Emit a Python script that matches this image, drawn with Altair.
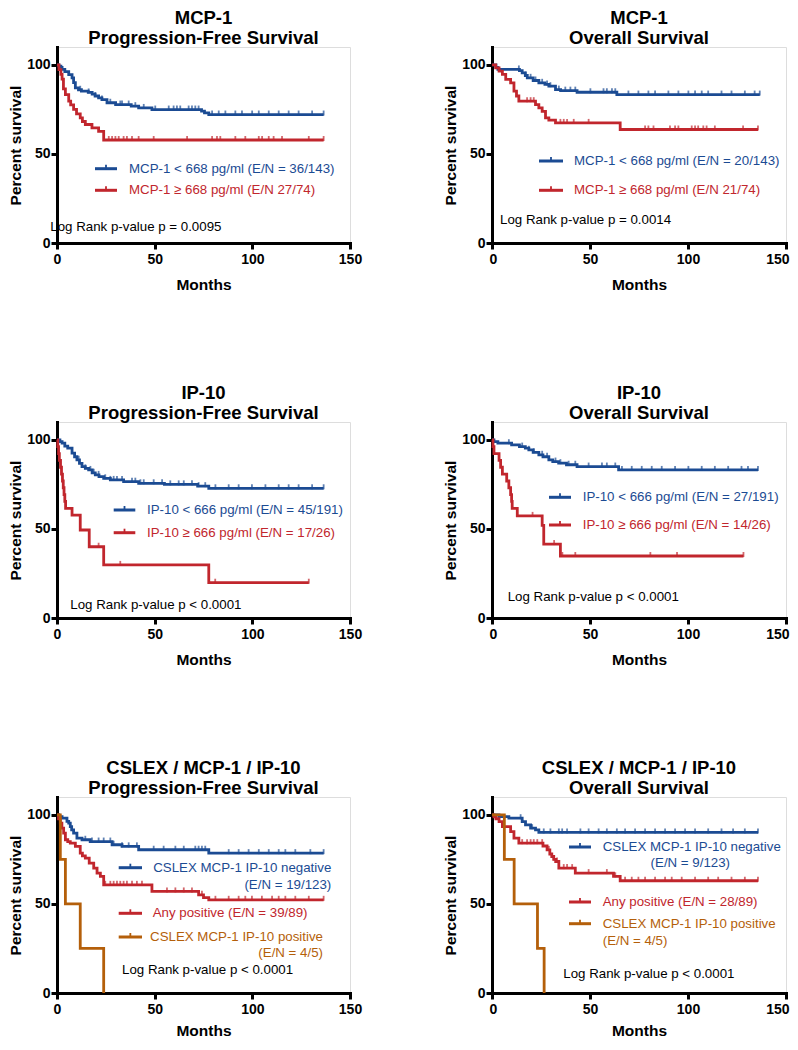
import altair as alt
import pandas as pd

FONT = "Liberation Sans"
BLUE = "#1b4b93"
RED = "#c1262d"
ORANGE = "#b45f0a"

# ---------------- data (months / percent survival) ----------------
# Panel 1: MCP-1 PFS
mcp_pfs_low_t = [0, 1, 2, 2.6, 4, 6, 7.7, 8.5, 9.4, 11, 12.5, 16, 18, 19.5, 21.3, 23, 25.6, 30, 38, 41.8, 48.6, 74, 75.5, 77.7, 136.5]
mcp_pfs_low_s = [100, 99.3, 98.6, 97.4, 96.2, 94.5, 92.7, 90, 87.1, 86, 85.2, 84.5, 83.5, 82.5, 81.5, 80.5, 78.7, 77.7, 76.8, 75.8, 74.9, 74, 73, 72.1, 72.1]
mcp_pfs_low_c = [11.9, 16.2, 19.6, 23, 27.3, 32.4, 33.3, 36.7, 40.1, 44.4, 50.3, 57.2, 59.7, 61.4, 63.1, 67.4, 69.1, 70.8, 72.5, 79.4, 82.8, 86.2, 91.3, 94.7, 99.9, 103.3, 108.4, 113.5, 118.6, 123.7, 130.6, 136.5]
mcp_pfs_high_t = [0, 1, 2, 2.6, 3.3, 4.3, 6, 7, 8.5, 10, 11.9, 13, 14.5, 17.9, 21.3, 23.9, 136.5]
mcp_pfs_high_s = [100, 97.3, 94.6, 92, 86.5, 83.3, 79.6, 77.5, 75, 72.5, 70.2, 68.2, 66.5, 64.6, 62.7, 57.8, 57.8]
mcp_pfs_high_c = [26.5, 28.2, 29.9, 31.6, 34.1, 35.8, 38.4, 41.8, 49.5, 66.6, 79.4, 81.9, 83.6, 91.3, 96.4, 103.3, 105, 108.4, 110.9, 115.2, 128.9, 136.5]

# Panel 2: MCP-1 OS
mcp_os_low_t = [0, 2, 3, 14, 15.4, 17, 18, 21, 23.9, 27, 29, 32.4, 35, 43.4, 63.7, 136.6]
mcp_os_low_s = [100, 98.6, 97.4, 96.7, 95.5, 94, 92.7, 91.2, 89.9, 89, 88, 86.1, 85.5, 84.6, 83.3, 83.3]
mcp_os_low_c = [13.7, 17.1, 19.7, 22.2, 25.6, 28.1, 29.8, 34.1, 37.4, 40, 42.5, 50.2, 56.9, 58.6, 61.2, 62.9, 69.6, 74.7, 79.8, 83.2, 90, 95.1, 100.2, 103.6, 107, 110.3, 117.1, 122.2, 129, 134, 136.6]
mcp_os_high_t = [0, 1.9, 3.6, 5.3, 7, 9.5, 11.2, 12.5, 13.7, 22.2, 23.9, 25.6, 27.3, 29, 32.4, 65.4, 135.7]
mcp_os_high_s = [100, 98.3, 96.5, 94.6, 91.8, 89.9, 85.2, 82.5, 79.6, 77.7, 75.8, 73.9, 70.2, 69, 67.4, 63.7, 63.7]
mcp_os_high_c = [17.9, 19.7, 21.3, 34.9, 36.6, 38.3, 41.7, 49.3, 78.1, 79.8, 82.4, 90.8, 93.4, 95.1, 101.9, 103.6, 105.2, 107.8, 109.5, 113.7, 128.1, 135.7]

# Panel 3: IP-10 PFS
ip_pfs_low_t = [0, 1.5, 2.6, 4, 5.5, 7.7, 9, 10.2, 11.5, 12.8, 14.5, 16.2, 18, 19.6, 21.5, 23.9, 27.3, 34.1, 41.8, 55, 72, 77.7, 136.5]
ip_pfs_low_s = [100, 99, 98.1, 96.5, 95.3, 92.5, 90.5, 88.8, 86.8, 85, 84, 83.1, 81.5, 80.3, 79.3, 78.4, 77.5, 76.5, 75.6, 75, 74, 72.8, 72.8]
ip_pfs_low_c = [11.1, 14.5, 17.1, 18.8, 21.3, 24.7, 27.3, 29, 30.7, 33.3, 38.4, 40.1, 42.7, 44.4, 49.5, 53.8, 58, 62.3, 64.9, 69.1, 72.5, 75.9, 81.1, 87.9, 93, 99.8, 106.7, 113.5, 118.6, 123.7, 130.6, 136.5]
ip_pfs_high_t = [0, 0.4, 0.8, 1.2, 1.8, 2.3, 2.8, 3.2, 3.6, 4.0, 4.4, 7.7, 11.9, 16.5, 23.9, 77.7, 128.9]
ip_pfs_high_s = [100, 96.2, 92.3, 88.5, 84.6, 80.8, 76.9, 73.1, 69.2, 65.4, 61.5, 57.7, 49.4, 40, 29.8, 19.8, 19.8]
ip_pfs_high_c = [21.3, 32.4, 81, 128.9]

# Panel 4: IP-10 OS
ip_os_low_t = [0, 1, 3, 10, 14, 17, 18.8, 21, 23.9, 26, 29, 31, 34, 38, 43.4, 64.6, 135.7]
ip_os_low_s = [100, 99, 98.1, 97.2, 96.2, 95.3, 94.4, 93, 91.6, 90.5, 88.8, 87.8, 86.9, 86, 85, 83.1, 83.1]
ip_os_low_c = [8.6, 15.4, 18.8, 21.3, 25.6, 28.1, 32.4, 34.9, 39.1, 42.5, 49.3, 56.1, 58.6, 62.9, 66.3, 71.3, 76.4, 81.5, 86.6, 93.4, 100.2, 107, 113.7, 120.5, 127.3, 130.6, 135.7]
ip_os_high_t = [0, 0.5, 1.0, 3.6, 4.4, 5.3, 7.5, 8.6, 9.5, 10, 10.3, 12.9, 25.6, 26.4, 34.9, 128.3]
ip_os_high_s = [100, 96.2, 92.3, 88.5, 84.6, 80.8, 76.9, 73.1, 69.2, 65.4, 61.5, 57.3, 52, 41.5, 34.8, 34.8]
ip_os_high_c = [20.7, 31.7, 35.9, 42.5, 80.8, 94.4, 128.3]

# Panel 5: CSLEX / MCP-1 / IP-10 PFS
cs_pfs_neg_t = [0, 1, 2.6, 5.1, 6, 6.8, 7.5, 8.5, 10.2, 12.8, 17, 28.2, 33.3, 41.8, 77.7, 136.5]
cs_pfs_neg_s = [100, 99, 98.1, 96.3, 95.3, 93.4, 91.5, 89.7, 86.9, 86, 85, 83.2, 82.3, 80.4, 78.5, 78.5]
cs_pfs_neg_c = [14.5, 17.9, 21.3, 23.9, 27.3, 29, 33.3, 36.7, 40.9, 49.5, 54.6, 60.6, 64.9, 70.8, 72.5, 74.2, 75.9, 87.9, 93, 98.1, 103.3, 108.4, 113.5, 116.9, 122, 129.7, 136.5]
cs_pfs_any_t = [0, 0.8, 1.7, 2.5, 3.4, 4.3, 5.5, 6.8, 9.4, 11.9, 13, 14.5, 16.5, 18.8, 20.5, 22.2, 23.9, 48.6, 72.5, 75, 77.7, 136.5]
cs_pfs_any_s = [100, 97.8, 95.3, 92.5, 89.7, 86, 85, 84.1, 82.3, 78.5, 77, 75.7, 72.9, 70.1, 67.3, 65.4, 60.7, 57, 55.1, 53.5, 52.3, 52.3]
cs_pfs_any_c = [24.7, 27.3, 29, 30.7, 32.4, 34.1, 35.8, 38.4, 40.9, 43.5, 56.3, 60.6, 64.9, 69.1, 74.2, 81.1, 87.9, 93, 96.4, 99.8, 104.9, 110.1, 113.5, 116.9, 122, 128.9, 136.5]
cs_pfs_pos_t = [0, 1.7, 4.3, 11.9, 23.9]
cs_pfs_pos_s = [100, 75, 50, 25, 0]
cs_pfs_pos_c = []

# Panel 6: CSLEX / MCP-1 / IP-10 OS
cs_os_neg_t = [0, 3.6, 8.6, 15.4, 17.1, 19.7, 22.2, 23.9, 135.7]
cs_os_neg_s = [100, 99, 98.1, 96.2, 94.4, 92.5, 91.6, 90.1, 90.1]
cs_os_neg_c = [14.6, 20.5, 26.4, 29.8, 34.1, 35.8, 38.3, 45.1, 49.3, 54.4, 58.6, 63.7, 67.9, 73, 78.1, 83.2, 88.3, 93.4, 98.5, 103.6, 110.3, 117.1, 123, 129, 135.7]
cs_os_any_t = [0, 1, 2, 3.6, 5.3, 9.5, 11.2, 13.7, 26, 28.1, 29.5, 30.5, 31.5, 32.5, 34.1, 42.5, 62, 65.4, 135.7]
cs_os_any_s = [100, 98.9, 97.8, 96.2, 93.4, 90.6, 86.9, 84.1, 82.5, 80.3, 78, 76.6, 75, 73.8, 70.1, 67.3, 65.5, 63, 63]
cs_os_any_c = [15.4, 17.9, 19.7, 21.3, 23.1, 25.6, 29, 31.5, 33.2, 36.6, 38.3, 40.9, 49.3, 58.6, 62.9, 67.9, 71.3, 74.7, 78.1, 83.2, 88.3, 91.7, 96.8, 103.6, 110.3, 115.4, 122.2, 129, 135.7]
cs_os_pos_t = [0, 6.3, 11.3, 23.2, 26.6]
cs_os_pos_s = [100, 75, 50, 25, 0]
cs_os_pos_c = []

# ---------------- text ----------------
titles = [
    ["MCP-1", "Progression-Free Survival"],
    ["MCP-1", "Overall Survival"],
    ["IP-10", "Progression-Free Survival"],
    ["IP-10", "Overall Survival"],
    ["CSLEX / MCP-1 / IP-10", "Progression-Free Survival"],
    ["CSLEX / MCP-1 / IP-10", "Overall Survival"],
]
pvalues = [
    "Log Rank p-value p = 0.0095",
    "Log Rank p-value p = 0.0014",
    "Log Rank p-value p < 0.0001",
    "Log Rank p-value p < 0.0001",
    "Log Rank p-value p < 0.0001",
    "Log Rank p-value p < 0.0001",
]
legend_mcp_pfs = ["MCP-1 < 668 pg/ml (E/N = 36/143)", "MCP-1 \u2265 668 pg/ml (E/N 27/74)"]
legend_mcp_os = ["MCP-1 < 668 pg/ml (E/N = 20/143)", "MCP-1 \u2265 668 pg/ml (E/N 21/74)"]
legend_ip_pfs = ["IP-10 < 666 pg/ml (E/N = 45/191)", "IP-10 \u2265 666 pg/ml (E/N = 17/26)"]
legend_ip_os = ["IP-10 < 666 pg/ml (E/N = 27/191)", "IP-10 \u2265 666 pg/ml (E/N = 14/26)"]
legend_cs_pfs = [["CSLEX MCP-1 IP-10 negative", "(E/N = 19/123)"], ["Any positive (E/N = 39/89)"],
                 ["CSLEX MCP-1 IP-10 positive", "(E/N = 4/5)"]]
legend_cs_os = [["CSLEX MCP-1 IP-10 negative", "(E/N = 9/123)"], ["Any positive (E/N = 28/89)"],
                ["CSLEX MCP-1 IP-10 positive", "(E/N = 4/5)"]]
x_ticks = [0, 50, 100, 150]
y_ticks = [0, 50, 100]

H = 196
TXT = 13.3


def surv_at(ts, ss, t):
    v = ss[0]
    for ti, si in zip(ts, ss):
        if ti <= t:
            v = si
    return v


def axes(x_title_pad, flush):
    if flush:
        xa = alt.Axis(values=x_ticks, title="Months", grid=False, labelPadding=3, titlePadding=x_title_pad,
                      labelFlush=True, labelFlushOffset=3)
    else:
        xa = alt.Axis(values=x_ticks, title="Months", grid=False, labelPadding=3, titlePadding=x_title_pad,
                      labelFlush=False)
    ya = alt.Axis(values=y_ticks, title="Percent survival", grid=False, labelPadding=1, titlePadding=3)
    return xa, ya


one = pd.DataFrame({"k": [0]})


def text_layer(label, x, y, color="black", align="left"):
    return alt.Chart(pd.DataFrame({"label": [label]})).mark_text(
        font=FONT, fontSize=TXT, color=color, align=align, baseline="middle"
    ).encode(text="label:N", x=alt.value(x), y=alt.value(y))


def legend_line(x1, x2, y, color):
    mid = (x1 + x2) / 2
    r1 = alt.Chart(one).mark_rule(color=color, strokeWidth=3).encode(
        x=alt.value(x1), x2=alt.value(x2), y=alt.value(y))
    r2 = alt.Chart(one).mark_rule(color=color, strokeWidth=1.8).encode(
        x=alt.value(mid), y=alt.value(y - 4), y2=alt.value(y))
    return [r1, r2]


def panel(title, curves, extra, width, x_title_pad=11, flush=False):
    xa, ya = axes(x_title_pad, flush)
    xs = alt.Scale(domain=[0, 150], nice=False, padding=0)
    ys = alt.Scale(domain=[0, 110], nice=False, padding=0)
    layers = []
    for ts, ss, cs, color in curves:
        df = pd.DataFrame({"t": ts, "s": ss})
        layers.append(alt.Chart(df).mark_line(interpolate="step-after", color=color, strokeWidth=2.8).encode(
            x=alt.X("t:Q", scale=xs, axis=xa), y=alt.Y("s:Q", scale=ys, axis=ya)))
        if cs:
            cdf = pd.DataFrame({"t": cs, "s": [surv_at(ts, ss, c) for c in cs]})
            layers.append(alt.Chart(cdf).mark_tick(color=color, orient="vertical", thickness=1.8, size=5,
                                                   yOffset=-1.5).encode(
                x=alt.X("t:Q", scale=xs, axis=xa), y=alt.Y("s:Q", scale=ys, axis=ya)))
    layers += extra
    return alt.layer(*layers).properties(
        width=width, height=H,
        title=alt.TitleParams(title, font=FONT, fontSize=18.5, fontWeight="bold", color="black",
                              anchor="middle", frame="group", offset=0, lineHeight=20))


W1, W2 = 293, 294

# Panel 1
p1 = panel(titles[0], [
    (mcp_pfs_low_t, mcp_pfs_low_s, mcp_pfs_low_c, BLUE),
    (mcp_pfs_high_t, mcp_pfs_high_s, mcp_pfs_high_c, RED)],
    legend_line(38, 60, 121.7, BLUE) + [text_layer(legend_mcp_pfs[0], 72, 121.7, BLUE)]
    + legend_line(38, 60, 143.3, RED) + [text_layer(legend_mcp_pfs[1], 72, 143.3, RED)]
    + [text_layer(pvalues[0], -6.7, 180)], W1)

# Panel 2
p2 = panel(titles[1], [
    (mcp_os_low_t, mcp_os_low_s, mcp_os_low_c, BLUE),
    (mcp_os_high_t, mcp_os_high_s, mcp_os_high_c, RED)],
    legend_line(47, 71, 114, BLUE) + [text_layer(legend_mcp_os[0], 82, 114, BLUE)]
    + legend_line(47, 71, 143.3, RED) + [text_layer(legend_mcp_os[1], 82, 143.3, RED)]
    + [text_layer(pvalues[1], 8, 173.3)], W2, flush=True)

# Panel 3
p3 = panel(titles[2], [
    (ip_pfs_low_t, ip_pfs_low_s, ip_pfs_low_c, BLUE),
    (ip_pfs_high_t, ip_pfs_high_s, ip_pfs_high_c, RED)],
    legend_line(56.7, 78.3, 88, BLUE) + [text_layer(legend_ip_pfs[0], 90, 88, BLUE)]
    + legend_line(56.7, 78.3, 110.7, RED) + [text_layer(legend_ip_pfs[1], 90, 110.7, RED)]
    + [text_layer(pvalues[2], 13.3, 183)], W1)

# Panel 4
p4 = panel(titles[3], [
    (ip_os_low_t, ip_os_low_s, ip_os_low_c, BLUE),
    (ip_os_high_t, ip_os_high_s, ip_os_high_c, RED)],
    legend_line(57, 79, 75.3, BLUE) + [text_layer(legend_ip_os[0], 90.7, 75.3, BLUE)]
    + legend_line(57, 79, 103, RED) + [text_layer(legend_ip_os[1], 90.7, 103, RED)]
    + [text_layer(pvalues[3], 15.7, 175.3)], W2, flush=True)

# Panel 5
p5 = panel(titles[4], [
    (cs_pfs_neg_t, cs_pfs_neg_s, cs_pfs_neg_c, BLUE),
    (cs_pfs_any_t, cs_pfs_any_s, cs_pfs_any_c, RED),
    (cs_pfs_pos_t, cs_pfs_pos_s, cs_pfs_pos_c, ORANGE)],
    legend_line(61.7, 85, 70.7, BLUE)
    + [text_layer(legend_cs_pfs[0][0], 274.3, 70.7, BLUE, "right"),
       text_layer(legend_cs_pfs[0][1], 274.3, 88, BLUE, "right")]
    + legend_line(61.7, 85, 116.3, RED) + [text_layer(legend_cs_pfs[1][0], 95.7, 116.3, RED)]
    + legend_line(61.7, 85, 140, ORANGE)
    + [text_layer(legend_cs_pfs[2][0], 266, 140, ORANGE, "right"),
       text_layer(legend_cs_pfs[2][1], 266, 156.3, ORANGE, "right")]
    + [text_layer(pvalues[4], 65, 173.3)], W1, x_title_pad=7)

# Panel 6
p6 = panel(titles[5], [
    (cs_os_neg_t, cs_os_neg_s, cs_os_neg_c, BLUE),
    (cs_os_any_t, cs_os_any_s, cs_os_any_c, RED),
    (cs_os_pos_t, cs_os_pos_s, cs_os_pos_c, ORANGE)],
    legend_line(77, 99, 50, BLUE)
    + [text_layer(legend_cs_os[0][0], 110.7, 50, BLUE),
       text_layer(legend_cs_os[0][1], 198.3, 65.7, BLUE, "center")]
    + legend_line(77, 99, 105, RED) + [text_layer(legend_cs_os[1][0], 110.7, 105, RED)]
    + legend_line(77, 99, 126.7, ORANGE)
    + [text_layer(legend_cs_os[2][0], 110.7, 126.7, ORANGE),
       text_layer(legend_cs_os[2][1], 110.7, 144, ORANGE)]
    + [text_layer(pvalues[5], 71.3, 177.3)], W2, x_title_pad=7, flush=True)

HS = 80
chart = alt.vconcat(
    alt.hconcat(p1, p2, spacing=HS),
    alt.vconcat(
        alt.hconcat(p3, p4, spacing=HS),
        alt.hconcat(p5, p6, spacing=HS),
        spacing=90,
    ),
    spacing=90,
).properties(
    padding=0
).configure_view(stroke=None).configure(background="white").configure_axis(
    domainWidth=3, domainColor="black", tickColor="black", tickWidth=3, tickSize=6,
    labelFont=FONT, labelFontSize=14, labelFontWeight="bold", labelColor="black",
    titleFont=FONT, titleFontSize=15.5, titleFontWeight="bold", titleColor="black",
    domainCap="square",
)

chart.save("out.html", embed_options={"renderer": "svg", "actions": False})
